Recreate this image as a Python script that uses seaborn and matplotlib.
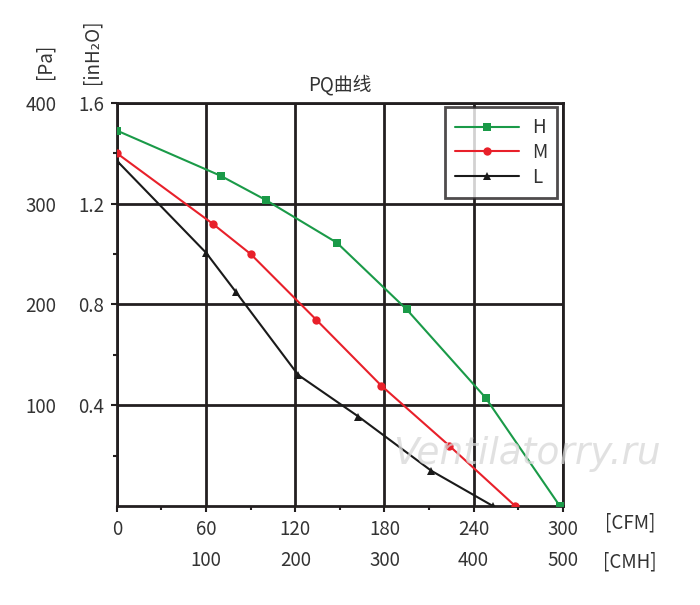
import pandas as pd
import numpy as np
import seaborn as sns
import matplotlib.pyplot as plt

# PQ curve data (x in CFM, y in inH2O)
h_cfm = [0, 70, 100, 148, 195, 248, 298]
h_p = [1.49, 1.31, 1.215, 1.045, 0.78, 0.43, 0.0]
m_cfm = [0, 64.5, 90, 134, 178, 223.5, 268]
m_p = [1.40, 1.12, 1.0, 0.74, 0.477, 0.24, 0.0]
l_cfm = [0, 60, 80, 122, 162.5, 211.5, 253]
l_p = [1.37, 1.005, 0.85, 0.52, 0.355, 0.14, 0.0]

cfm_ticks = [0, 60, 120, 180, 240, 300]
cmh_ticks = [100, 200, 300, 400, 500]
inh2o_ticks = [0.4, 0.8, 1.2, 1.6]
pa_ticks = [100, 200, 300, 400]

df = pd.concat([
    pd.DataFrame({'cfm': h_cfm, 'p': h_p, 'mode': 'H'}),
    pd.DataFrame({'cfm': m_cfm, 'p': m_p, 'mode': 'M'}),
    pd.DataFrame({'cfm': l_cfm, 'p': l_p, 'mode': 'L'}),
])

sns.set_style('white')
plt.rcParams['font.family'] = ['Noto Sans CJK SC', 'DejaVu Sans']
txt = '#333333'
edge = '#231f20'
fs = 13.5

fig = plt.figure(figsize=(7, 6.05), dpi=100)
ax = fig.add_axes([0.167, 0.1636, 0.637, 0.6664])

colors = {'H': '#1a9a48', 'M': '#e8202a', 'L': '#1a1a1a'}
markers = {'H': 's', 'M': 'o', 'L': '^'}
sns.lineplot(data=df, x='cfm', y='p', hue='mode', style='mode',
             palette=colors, markers=markers, dashes=False, sort=False,
             linewidth=1.5, markersize=6, markeredgewidth=0, ax=ax, zorder=3)

ax.set_xlim(0, 300)
ax.set_ylim(0, 1.6)
ax.set_xticks(cfm_ticks)
ax.set_yticks(inh2o_ticks)
ax.set_xticks(np.arange(30, 300, 60), minor=True)
ax.set_yticks([0.2, 0.6, 1.0, 1.4], minor=True)
ax.set_xlabel('')
ax.set_ylabel('')
ax.grid(True, which='major', color=edge, linewidth=2)
for s in ax.spines.values():
    s.set_color(edge)
    s.set_linewidth(2)
ax.tick_params(which='major', direction='out', length=4, width=1.5, color=edge,
               labelsize=fs, labelcolor=txt, pad=5)
ax.tick_params(which='minor', direction='out', length=3, width=1.5, color=edge)
ax.tick_params(axis='x', which='both', bottom=True)
ax.tick_params(axis='y', which='both', left=True)

# second scales: CMH under CFM, Pa left of inH2O
sec_x = ax.secondary_xaxis(-0.097, functions=(lambda x: x * 5 / 3, lambda x: x * 0.6))
sec_x.set_xticks(cmh_ticks)
sec_x.spines['bottom'].set_visible(False)
sec_x.tick_params(length=0, labelsize=fs, labelcolor=txt)

sec_y = ax.secondary_yaxis(-0.125, functions=(lambda y: y * 250, lambda y: y / 250))
sec_y.set_yticks(pa_ticks)
sec_y.spines['left'].set_visible(False)
sec_y.tick_params(length=0, labelsize=fs, labelcolor=txt)

leg = ax.legend(loc='upper right', bbox_to_anchor=(0.988, 0.99), fontsize=fs,
                frameon=True, fancybox=False, edgecolor=edge, handlelength=3.4,
                borderpad=0.55, labelspacing=0.2, handletextpad=0.7,
                borderaxespad=0)
leg.get_frame().set_linewidth(2)
for t in leg.get_texts():
    t.set_color(txt)

ax.set_title('PQ曲线', fontsize=fs, color=txt, pad=9)
fig.text(0.064, 0.898, '[Pa]', rotation=90, ha='center', va='center', fontsize=fs, color=txt)
fig.text(0.131, 0.915, '[inH₂O]', rotation=90, ha='center', va='center', fontsize=fs, color=txt)
fig.text(0.9, 0.136, '[CFM]', ha='center', va='center', fontsize=fs, color=txt)
fig.text(0.9, 0.071, '[CMH]', ha='center', va='center', fontsize=fs, color=txt)

ax.text(0.92, 0.13, 'Ventilatorry.ru', transform=ax.transAxes, ha='center', va='center',
        fontsize=27, style='italic', color='#d8d8d8', alpha=0.75, zorder=5,
        family='DejaVu Sans')

fig.savefig('out.png', dpi=100)
